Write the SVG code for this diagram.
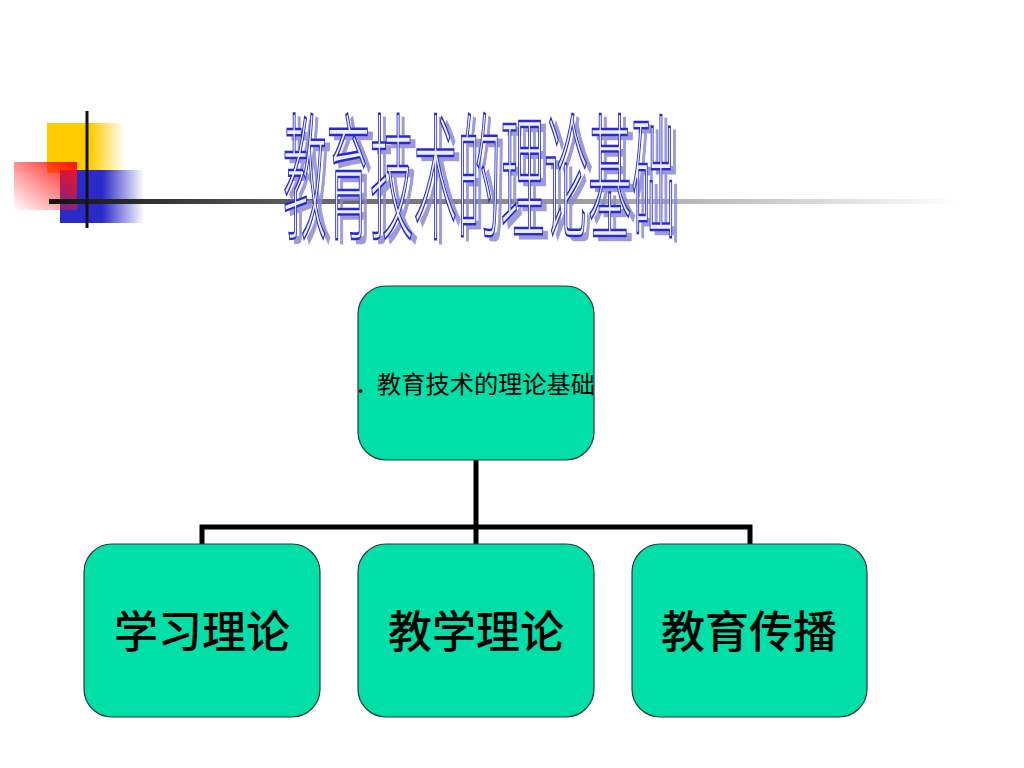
<svg xmlns="http://www.w3.org/2000/svg" width="1024" height="768" viewBox="0 0 1024 768">
<defs>
<linearGradient id="gYellow" x1="0" y1="0" x2="1" y2="0">
<stop offset="0" stop-color="#ffcc00"/>
<stop offset="0.55" stop-color="#ffcc00"/>
<stop offset="1" stop-color="#ffcc00" stop-opacity="0"/>
</linearGradient>
<linearGradient id="gBlue" x1="0" y1="0" x2="1" y2="0">
<stop offset="0" stop-color="#2a2ac8"/>
<stop offset="0.5" stop-color="#2a2ac8"/>
<stop offset="1" stop-color="#2a2ac8" stop-opacity="0"/>
</linearGradient>
<linearGradient id="gRed" x1="1" y1="0" x2="0" y2="1">
<stop offset="0" stop-color="#ff1010"/>
<stop offset="1" stop-color="#ff2020" stop-opacity="0"/>
</linearGradient>
<linearGradient id="gLine" gradientUnits="userSpaceOnUse" x1="49" y1="0" x2="960" y2="0">
<stop offset="0" stop-color="#111"/>
<stop offset="0.3" stop-color="#666"/>
<stop offset="0.65" stop-color="#aaa"/>
<stop offset="1" stop-color="#fff"/>
</linearGradient>
<filter id="shadow" x="-5%" y="-5%" width="115%" height="115%">
<feFlood flood-color="#8a8ad0" flood-opacity="0.85" result="c"/>
<feComposite in="c" in2="SourceAlpha" operator="in" result="s"/>
<feOffset in="s" dx="5" dy="4" result="o"/>
<feMerge><feMergeNode in="o"/><feMergeNode in="SourceGraphic"/></feMerge>
</filter>
<clipPath id="clipTop"><rect x="358" y="286" width="236" height="174" rx="28"/></clipPath>
<style>
.node{fill:#00dfa8;stroke:#2a3a33;stroke-width:1.2}
.big{font-family:"Noto Sans CJK SC","Liberation Sans",sans-serif;fill:#000;text-anchor:middle;font-size:44px;font-weight:500}
.small{font-family:"Noto Sans CJK SC","Liberation Sans",sans-serif;fill:#000;font-size:24px}
.conn{fill:none;stroke:#000;stroke-width:5;stroke-linejoin:miter}
.title{font-family:"Noto Sans CJK SC",sans-serif;font-size:49px;font-weight:300;fill:#eef0ff;stroke:#2a2ad0;stroke-width:0.9}
</style>
</defs>
<rect width="1024" height="768" fill="#fff"/>
<g id="decoration">
<rect x="47" y="123" width="78" height="50" fill="url(#gYellow)"/>
<rect x="60" y="170" width="84" height="53" fill="url(#gBlue)"/>
<rect x="14" y="162" width="63" height="48" fill="url(#gRed)"/>
<rect x="49" y="199" width="911" height="5" fill="url(#gLine)"/>
<rect x="85.5" y="111" width="3" height="117" fill="#111"/>
</g>
<g id="title" filter="url(#shadow)">
<text class="title" x="0" y="0" transform="translate(283,229) scale(1,2.8)" textLength="392" lengthAdjust="spacingAndGlyphs">教育技术的理论基础</text>
</g>
<g id="connectors">
<path class="conn" d="M476,460 V527"/>
<path class="conn" d="M202,544 V527 H750 V544"/>
<path class="conn" d="M476,527 V544"/>
</g>
<g id="node-root">
<rect class="node" x="358" y="286" width="236" height="174" rx="28"/>
<g clip-path="url(#clipTop)">
<text class="small" x="355" y="393">．<tspan x="377" textLength="218" lengthAdjust="spacingAndGlyphs">教育技术的理论基础</tspan></text>
</g>
</g>
<g id="node-learning">
<rect class="node" x="84" y="544" width="236" height="173" rx="28"/>
<text class="big" x="202" y="648">学习理论</text>
</g>
<g id="node-teaching">
<rect class="node" x="358" y="544" width="236" height="173" rx="28"/>
<text class="big" x="476" y="648">教学理论</text>
</g>
<g id="node-comm">
<rect class="node" x="632" y="544" width="235" height="173" rx="28"/>
<text class="big" x="749" y="648">教育传播</text>
</g>
</svg>
